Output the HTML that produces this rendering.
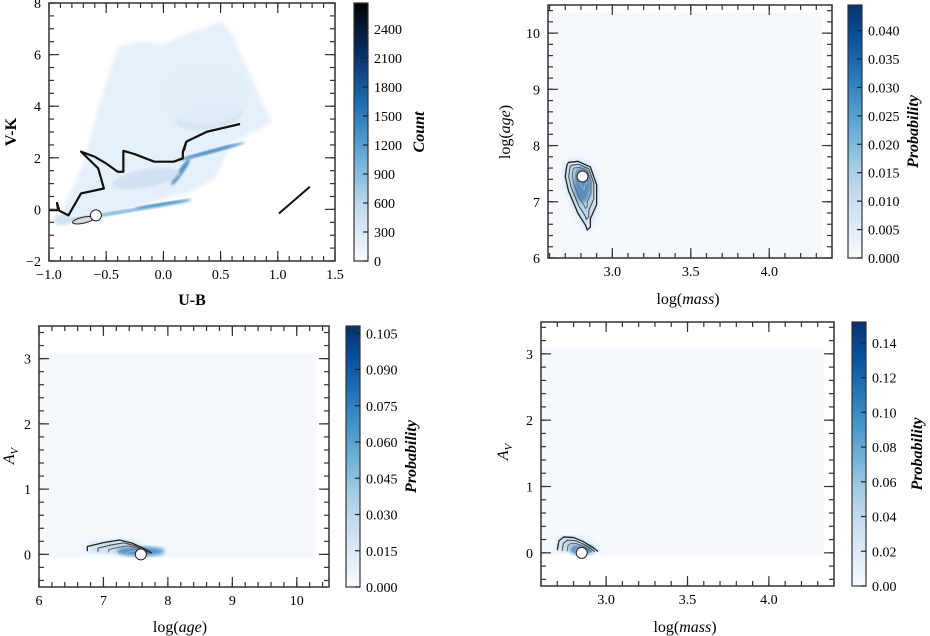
<!DOCTYPE html>
<html><head><meta charset="utf-8">
<style>
html,body{margin:0;padding:0;background:#fff;}
svg{display:block;font-family:"Liberation Serif",serif;}
</style></head>
<body>
<svg id="fig" width="930" height="636" viewBox="0 0 930 636" xmlns="http://www.w3.org/2000/svg">
<defs>
<linearGradient id="blues" x1="0" y1="1" x2="0" y2="0">
<stop offset="0" stop-color="#f7fbff"/><stop offset="0.125" stop-color="#deebf7"/>
<stop offset="0.25" stop-color="#c6dbef"/><stop offset="0.375" stop-color="#9ecae1"/>
<stop offset="0.5" stop-color="#6baed6"/><stop offset="0.625" stop-color="#4292c6"/>
<stop offset="0.75" stop-color="#2171b5"/><stop offset="0.875" stop-color="#08519c"/>
<stop offset="1" stop-color="#08306b"/></linearGradient>
<linearGradient id="greys" x1="0" y1="1" x2="0" y2="0">
<stop offset="0" stop-color="#f7fbff"/><stop offset="0.2" stop-color="#c6dbef"/>
<stop offset="0.4" stop-color="#6baed6"/><stop offset="0.6" stop-color="#2171b5"/>
<stop offset="0.8" stop-color="#08306b"/><stop offset="1" stop-color="#000000"/></linearGradient>
<filter id="b1"><feGaussianBlur stdDeviation="1.2"/></filter>
<filter id="b2"><feGaussianBlur stdDeviation="2"/></filter>
<filter id="b4"><feGaussianBlur stdDeviation="4"/></filter>
</defs>
</svg>
<script>
// ---------- data ----------
const p1XTicks = [-1.0,-0.5,0.0,0.5,1.0,1.5];
const p1XTickLabels = ["\u22121.0","\u22120.5","0.0","0.5","1.0","1.5"];
const p1YTicks = [-2,0,2,4,6,8];
const p1YTickLabels = ["\u22122","0","2","4","6","8"];
const p1CbTicks = [0,300,600,900,1200,1500,1800,2100,2400];
const trackU = [-1.0,-0.92,-0.93,-0.91,-0.83,-0.72,-0.52,-0.57,-0.72,-0.60,-0.50,-0.40,-0.35,-0.35,-0.25,-0.08,0.09,0.17,0.17,0.20,0.18,0.20,0.23,0.38,0.67];
const trackV = [-0.03,-0.03,0.25,-0.05,-0.23,0.62,0.81,1.59,2.24,2.04,1.78,1.46,1.46,2.27,2.14,1.85,1.85,1.98,2.24,2.62,2.30,2.62,2.69,3.01,3.31];
const arrowU = [1.01,1.28];
const arrowV = [-0.16,0.88];
const bestU = [-0.59];
const bestV = [-0.23];
// density cloud outline (U-B, V-K)
const cloudU = [-0.95,-0.85,-0.7,-0.55,-0.4,-0.2,0.0,0.2,0.35,0.5,0.6,0.7,0.8,0.9,0.95,0.8,0.6,0.45,0.2,0.0,-0.3,-0.6,-0.9,-0.95];
const cloudV = [-0.6,0.3,1.8,4.2,6.3,6.5,6.4,6.8,7.0,7.3,6.8,5.8,4.8,3.8,3.4,3.0,2.6,1.2,0.6,0.4,0.0,-0.4,-0.6,-0.6];
// density blobs: center u, v, spread ru, rv, pixel angle(deg), level
const blobU = [-0.3,0.0,0.42,0.15,-0.15,0.4,-0.88,0.35];
const blobV = [-0.05,0.22,2.25,1.45,1.2,3.6,-0.4,4.5];
const blobRU = [0.55,0.25,0.3,0.14,0.3,0.3,0.08,0.4];
const blobRV = [0.07,0.05,0.07,0.1,0.35,0.5,0.2,1.2];
const blobAng = [-9,-9,-15,-55,-10,-10,0,0];
const blobLvl = [0.5,0.75,0.75,0.7,0.22,0.18,0.2,0.1];

const p2XTicks = [3.0,3.5,4.0];
const p2YTicks = [6,7,8,9,10];
const p2CbTicks = [0,0.005,0.010,0.015,0.020,0.025,0.030,0.035,0.040];
const p2Best = [2.81,7.45];
const p2ContourX = [2.72,2.78,2.86,2.9,2.9,2.86,2.86,2.84,2.83,2.78,2.72,2.70,2.71];
const p2ContourY = [7.7,7.72,7.62,7.3,6.95,6.7,6.55,6.5,6.58,6.8,7.2,7.45,7.65];

const p3XTicks = [6,7,8,9,10];
const p3YTicks = [0,1,2,3];
const p3CbTicks = [0,0.015,0.030,0.045,0.060,0.075,0.090,0.105];
const p3Best = [7.58,0.0];
const p3ContourX = [6.75,6.75,7.0,7.25,7.45,7.65,7.75];
const p3ContourY = [0.05,0.12,0.18,0.22,0.17,0.08,0.02];

const p4XTicks = [3.0,3.5,4.0];
const p4YTicks = [0,1,2,3];
const p4CbTicks = [0,0.02,0.04,0.06,0.08,0.10,0.12,0.14];
const p4Best = [2.85,0.0];
const p4ContourX = [2.7,2.71,2.74,2.8,2.86,2.92,2.95];
const p4ContourY = [0.04,0.18,0.24,0.23,0.17,0.08,0.02];

// ---------- helpers ----------
const NS="http://www.w3.org/2000/svg";
const svg=document.getElementById('fig');
function el(tag,attrs,parent){const e=document.createElementNS(NS,tag);for(const k in attrs)e.setAttribute(k,attrs[k]);(parent||svg).appendChild(e);return e;}
function lin(d0,d1,r0,r1){return v=>r0+(v-d0)/(d1-d0)*(r1-r0);}
function txt(x,y,s,attrs,name){const t=el('text',Object.assign({x:x,y:y,'font-size':14,fill:'#000'},attrs||{}));t.textContent=s;


return t;}
// rich text: parts = [[string, styleAttrs], ...]
function rich(x,y,parts,attrs,name){const t=el('text',Object.assign({x:x,y:y,'font-size':16,fill:'#000'},attrs||{}));


parts.forEach(p=>{const s=el('tspan',p[1]||{},t);s.textContent=p[0];});return t;}
function fmt(v,d){return v.toFixed(d);}

function axes(cfg){
  const g=el('g',{});
  
  
  const {x0,x1,y0,y1,xs,ys}=cfg;
  function tickSet(vals,len,isX){
    vals.forEach(v=>{
      if(isX){const px=xs(v); if(px<x0-0.5||px>x1+0.5)return;
        el('line',{x1:px,y1:y1,x2:px,y2:y1-len,stroke:'#333','stroke-width':1.2},g);
        el('line',{x1:px,y1:y0,x2:px,y2:y0+len,stroke:'#333','stroke-width':1.2},g);}
      else{const py=ys(v); if(py<y0-0.5||py>y1+0.5)return;
        el('line',{x1:x0,y1:py,x2:x0+len,y2:py,stroke:'#333','stroke-width':1.2},g);
        el('line',{x1:x1,y1:py,x2:x1-len,y2:py,stroke:'#333','stroke-width':1.2},g);}
    });
  }
  tickSet(cfg.xMinor,5,true);tickSet(cfg.yMinor,5,false);
  tickSet(cfg.xMajor,10,true);tickSet(cfg.yMajor,10,false);
  el('rect',{x:x0,y:y0,width:x1-x0,height:y1-y0,fill:'none',stroke:'#333','stroke-width':1.5},g);
  cfg.xMajor.forEach((v,i)=>{txt(xs(v),y1+18,cfg.xLabels[i],{'text-anchor':'middle'},'x-tick-label');});
  cfg.yMajor.forEach((v,i)=>{txt(x0-8,ys(v)+5,cfg.yLabels[i],{'text-anchor':'end'},'y-tick-label');});
}
function range(a,b,s){const r=[];for(let v=a;v<=b+1e-9;v+=s)r.push(Math.round(v*1000)/1000);return r;}

function colorbar(x,y0,y1,vmax,ticks,dec,label,grad,name){
  const g=el('g',{});
  
  
  el('rect',{x:x,y:y0,width:14,height:y1-y0,fill:'url(#'+grad+')',stroke:'#333','stroke-width':1.2},g);
  const s=lin(0,vmax,y1,y0);
  ticks.forEach(v=>{const py=s(v);
    el('line',{x1:x+14,y1:py,x2:x+9,y2:py,stroke:'#222','stroke-width':1.2},g);
    txt(x+20,py+5,fmt(v,dec),{'text-anchor':'start'},'colorbar-tick-label');});
  const lx=x+70, ly=(y0+y1)/2;
  txt(lx,ly,label,{'text-anchor':'middle','font-style':'italic','font-weight':'bold','font-size':16,transform:'rotate(-90 '+lx+' '+ly+')'},'colorbar-title');
}
function blobLevelColor(l){const c=[[247,251,255],[198,219,239],[107,174,214],[33,113,181],[8,48,107]];
  const t=Math.max(0,Math.min(0.9999,l))*(c.length-1);const i=Math.floor(t),f=t-i;
  return 'rgb('+c[i].map((v,k)=>Math.round(v+(c[i+1][k]-v)*f)).join(',')+')';}

// ---------- Panel 1 ----------
(function(){
  const x0=49,x1=335,y0=3,y1=261;
  const xs=lin(-1,1.5,x0,x1), ys=lin(-2,8,y1,y0);
  const g=el('g',{});
  
  
  el('clipPath',{id:'c1'},g);
  const cp=g.lastChild; el('rect',{x:x0,y:y0,width:x1-x0,height:y1-y0},cp);
  const inner=el('g',{'clip-path':'url(#c1)'},g);
  const pts=cloudU.map((u,i)=>xs(u)+','+ys(cloudV[i])).join(' ');
  const cloud=el('polygon',{points:pts,fill:'#e6f0fa',filter:'url(#b2)'},inner);
  
  
  blobU.forEach((u,i)=>{
    const cx=xs(u),cy=ys(blobV[i]);
    const e=el('ellipse',{cx:cx,cy:cy,rx:Math.abs(xs(u+blobRU[i])-cx),ry:Math.abs(ys(blobV[i]+blobRV[i])-cy),
      fill:blobLevelColor(blobLvl[i]),filter:'url(#b1)',opacity:0.85,transform:'rotate('+blobAng[i]+' '+cx+' '+cy+')'},inner);
    
    
  });
  const tr=el('polyline',{points:trackU.map((u,i)=>xs(u)+','+ys(trackV[i])).join(' '),fill:'none',stroke:'#111','stroke-width':2.2,'stroke-linejoin':'round'},inner);
  
  
  const ar=el('line',{x1:xs(arrowU[0]),y1:ys(arrowV[0]),x2:xs(arrowU[1]),y2:ys(arrowV[1]),stroke:'#111','stroke-width':2},inner);
  
  
  const ct=el('ellipse',{cx:xs(-0.7),cy:ys(-0.42),rx:11,ry:3,fill:'#d9d9d9',stroke:'#222','stroke-width':1,transform:'rotate(-12 '+xs(-0.7)+' '+ys(-0.42)+')'},inner);
  
  
  const bp=el('circle',{cx:xs(bestU[0]),cy:ys(bestV[0]),r:5.5,fill:'#fff',stroke:'#222','stroke-width':1},inner);
  
  
  axes({name:'axes-1',x0,x1,y0,y1,xs,ys,xMajor:p1XTicks,xLabels:p1XTickLabels,yMajor:p1YTicks,yLabels:p1YTickLabels,xMinor:range(-1,1.5,0.1),yMinor:range(-2,8,0.5)});
  txt((x0+x1)/2,305,'U-B',{'text-anchor':'middle','font-weight':'bold','font-size':16},'x-axis-title');
  txt(16,132,'V-K',{'text-anchor':'middle','font-weight':'bold','font-size':16,transform:'rotate(-90 16 132)'},'y-axis-title');
  colorbar(354,y0,y1,2669,p1CbTicks,0,'Count','greys','count-colorbar');
})();

function probPanel(cfg){
  const {xs,ys}=cfg;
  const g=el('g',{});
  
  
  const bg=el('rect',{x:xs(cfg.fill[0]),y:ys(cfg.fill[3]),width:xs(cfg.fill[1])-xs(cfg.fill[0]),height:ys(cfg.fill[2])-ys(cfg.fill[3]),fill:'#f5f9fe'},g);
  
  
  const cx=xs(cfg.peak[0]),cy=ys(cfg.peak[1]);
  const pts=cfg.cx.map((v,i)=>xs(v)+','+ys(cfg.cy[i])).join(' ');
  el('polygon',{points:pts,fill:'#b5d4ea',filter:'url(#b4)'},g);
  el('ellipse',{cx:cx,cy:cy+cfg.dy,rx:cfg.rx*0.6,ry:cfg.ry*0.6,fill:'#4a90c8',filter:'url(#b2)'},g);
  const c=el(cfg.closed?'polygon':'polyline',{points:pts,fill:'none',stroke:'#222','stroke-width':1.3},g);
  
  
  [0.8,0.6,0.4,0.25].forEach((s,i)=>{
    const pp=cfg.cx.map((v,k)=>{const px=xs(v),py=ys(cfg.cy[k]);return (cx+(px-cx)*s)+','+(cy+(py-cy)*s);}).join(' ');
    const e=el(cfg.closed?'polygon':'polyline',{points:pp,fill:'none',stroke:['#444','#666','#888','#aac'][i],'stroke-width':1},g);
    
    
  });
  const bp=el('circle',{cx:cx,cy:cy,r:5.5,fill:'#fff',stroke:'#222','stroke-width':1},g);
  
  
}
const IT={'font-style':'italic'};

// ---------- Panel 2 ----------
(function(){
  const x0=548,x1=832,y0=5,y1=258;
  const xs=lin(2.59,4.4,x0,x1), ys=lin(6,10.5,y1,y0);
  probPanel({name:'mass-age-posterior',xs,ys,fill:[2.59,4.34,6,10.36],peak:p2Best,cx:p2ContourX,cy:p2ContourY,dy:8,rx:14,ry:30,closed:true});
  axes({name:'axes-2',x0,x1,y0,y1,xs,ys,xMajor:p2XTicks,xLabels:p2XTicks.map(v=>fmt(v,1)),yMajor:p2YTicks,yLabels:p2YTicks.map(String),xMinor:range(2.6,4.4,0.1),yMinor:range(6,10.4,0.2)});
  rich(688,304,[['log('],['mass',IT],[')']],{'text-anchor':'middle'},'x-axis-title');
  rich(510,132,[['log('],['age',IT],[')']],{'text-anchor':'middle',transform:'rotate(-90 510 132)'},'y-axis-title');
  colorbar(848,y0,y1,0.0445,p2CbTicks,3,'Probability','blues','probability-colorbar-2');
})();

// ---------- Panel 3 ----------
(function(){
  const x0=39,x1=329,y0=326,y1=587;
  const xs=lin(6,10.5,x0,x1), ys=lin(-0.5,3.5,y1,y0);
  probPanel({name:'age-av-posterior',xs,ys,fill:[6,10.3,-0.05,3.08],peak:p3Best,cx:p3ContourX,cy:p3ContourY,dy:-3,rx:40,ry:8,closed:false});
  axes({name:'axes-3',x0,x1,y0,y1,xs,ys,xMajor:p3XTicks,xLabels:p3XTicks.map(String),yMajor:p3YTicks,yLabels:p3YTicks.map(String),xMinor:range(6,10.4,0.2),yMinor:range(-0.4,3.4,0.2)});
  rich(180,632,[['log('],['age',IT],[')']],{'text-anchor':'middle'},'x-axis-title');
  rich(14,456,[['A',IT],['V',{'font-style':'italic','font-size':11,dy:4}]],{'text-anchor':'middle',transform:'rotate(-90 14 456)'},'y-axis-title');
  colorbar(346,y0,y1,0.108,p3CbTicks,3,'Probability','blues','probability-colorbar-3');
})();

// ---------- Panel 4 ----------
(function(){
  const x0=541,x1=834,y0=322,y1=586;
  const xs=lin(2.6,4.4,x0,x1), ys=lin(-0.5,3.48,y1,y0);
  probPanel({name:'mass-av-posterior',xs,ys,fill:[2.6,4.34,-0.04,3.08],peak:p4Best,cx:p4ContourX,cy:p4ContourY,dy:-3,rx:20,ry:8,closed:false});
  axes({name:'axes-4',x0,x1,y0,y1,xs,ys,xMajor:p4XTicks,xLabels:p4XTicks.map(v=>fmt(v,1)),yMajor:p4YTicks,yLabels:p4YTicks.map(String),xMinor:range(2.6,4.4,0.1),yMinor:range(-0.4,3.4,0.2)});
  rich(685,632,[['log('],['mass',IT],[')']],{'text-anchor':'middle'},'x-axis-title');
  rich(508,452,[['A',IT],['V',{'font-style':'italic','font-size':11,dy:4}]],{'text-anchor':'middle',transform:'rotate(-90 508 452)'},'y-axis-title');
  colorbar(852,y0,y1,0.152,p4CbTicks,2,'Probability','blues','probability-colorbar-4');
})();
</script>
</body></html>
